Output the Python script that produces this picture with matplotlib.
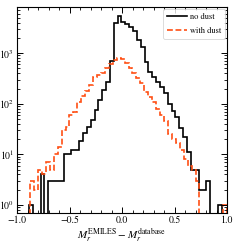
import numpy as np
import matplotlib
matplotlib.use("Agg")
import matplotlib.pyplot as plt
from matplotlib.ticker import MultipleLocator, LogLocator, NullFormatter

# ---- data ----
n_bins = 50
nodust_range = (-0.886, 0.949)
dust_range = (-0.876, 1.0)

nodust_counts = [1, 0, 0, 4, 0, 3, 3, 3, 3, 10,
                 10, 12, 12, 18, 26, 35, 47, 75, 118, 185,
                 270, 700, 4000, 5400, 4100, 3700, 3300, 2800, 1780, 1320,
                 680, 425, 340, 270, 215, 160, 100, 72, 55, 33,
                 22, 11, 5, 5, 2, 2, 3, 0, 0, 1]

dust_counts = [3, 2, 5, 4, 7, 5, 10, 14, 30, 35,
               60, 69, 110, 140, 180, 240, 340, 365, 400, 500,
               600, 720, 800, 760, 640, 520, 400, 330, 260, 170,
               135, 108, 80, 60, 45, 25, 20, 17, 12, 8,
               6, 5, 3, 0, 0, 0, 0, 0, 0, 1]

labels = ["no dust", "with dust"]
xlabel = r"$M_r^{\rm EMILES} - M_r^{\rm database}$"

# ---- style ----
plt.rcParams["font.family"] = ["STIXGeneral", "DejaVu Serif"]
plt.rcParams["mathtext.fontset"] = "stix"

fig = plt.figure(figsize=(2.4, 2.48), dpi=100)
ax = fig.add_axes([0.071, 0.141, 0.875, 0.831])

edges_nd = np.linspace(nodust_range[0], nodust_range[1], n_bins + 1)
edges_d = np.linspace(dust_range[0], dust_range[1], n_bins + 1)

ax.stairs(nodust_counts, edges_nd, baseline=0, color="black", lw=1.2,
          label=labels[0])
ax.stairs(dust_counts, edges_d, baseline=0, color="#ff4f14", lw=1.2,
          ls=(0, (3.5, 1.6)), label=labels[1])

ax.set_yscale("log")
ax.set_xlim(-1.0, 1.0)
ax.set_ylim(0.69, 8200)

ax.xaxis.set_major_locator(MultipleLocator(0.5))
ax.xaxis.set_minor_locator(MultipleLocator(0.1))
ax.yaxis.set_major_locator(LogLocator(base=10, numticks=10))
ax.yaxis.set_minor_locator(LogLocator(base=10, subs=np.arange(2, 10), numticks=10))
ax.yaxis.set_minor_formatter(NullFormatter())

ax.tick_params(which="both", direction="in", top=True, right=True,
               labelsize=7, pad=2)
ax.tick_params(which="major", length=4.5, width=0.7)
ax.tick_params(which="minor", length=2.5, width=0.6)
ax.set_xticks([-1.0, -0.5, 0.0, 0.5, 1.0])
ax.set_xticklabels(["\u22121.0", "\u22120.5", "0.0", "0.5", "1.0"])
for s in ax.spines.values():
    s.set_linewidth(0.8)

ax.set_xlabel(xlabel, fontsize=8, labelpad=1)

leg = ax.legend(loc="upper right", fontsize=6, handlelength=2.3,
                borderaxespad=0.2, frameon=True, fancybox=True,
                labelspacing=0.7, handletextpad=0.4, borderpad=0.5)
leg.get_frame().set_edgecolor("0.8")
leg.get_frame().set_linewidth(0.6)

fig.savefig("out.png", dpi=100)
